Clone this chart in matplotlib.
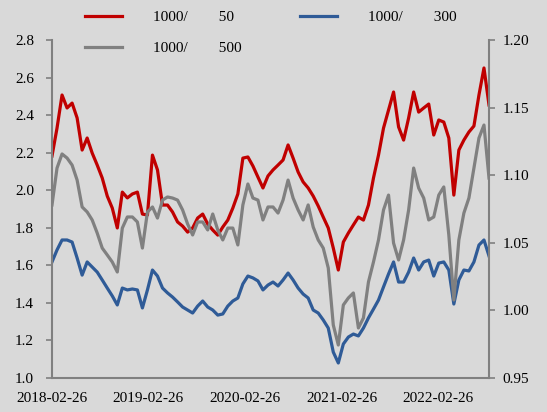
import pandas as pd
import matplotlib.dates as mdates
from matplotlib.backends.backend_agg import FigureCanvasAgg as FigureCanvas
from matplotlib.figure import Figure

# sample dates (evenly spaced)
dates = pd.date_range('2018-02-26', '2022-09-07', periods=88)

# left axis
ratio_50 = [2.182, 2.331, 2.507, 2.438, 2.464, 2.385, 2.214, 2.278, 2.198, 2.134,
            2.065, 1.969, 1.905, 1.799, 1.990, 1.959, 1.980, 1.990, 1.873, 1.868,
            2.187, 2.108, 1.921, 1.921, 1.884, 1.831, 1.809, 1.777, 1.799, 1.852,
            1.873, 1.820, 1.788, 1.761, 1.804, 1.841, 1.905, 1.980, 2.171, 2.177,
            2.129, 2.070, 2.012, 2.076, 2.108, 2.134, 2.161, 2.241, 2.171, 2.097,
            2.044, 2.012, 1.969, 1.916, 1.857, 1.799, 1.692, 1.575, 1.724, 1.772,
            1.815, 1.857, 1.841, 1.921, 2.065, 2.187, 2.331, 2.427, 2.523, 2.337,
            2.267, 2.385, 2.523, 2.416, 2.438, 2.459, 2.294, 2.374, 2.363, 2.278,
            1.974, 2.214, 2.267, 2.310, 2.342, 2.507, 2.651, 2.454]

ratio_300 = [1.618, 1.682, 1.735, 1.735, 1.724, 1.639, 1.548, 1.618, 1.591, 1.564,
             1.522, 1.479, 1.437, 1.389, 1.479, 1.469, 1.474, 1.469, 1.373, 1.469,
             1.575, 1.543, 1.479, 1.453, 1.431, 1.405, 1.378, 1.362, 1.346, 1.383,
             1.410, 1.378, 1.362, 1.335, 1.341, 1.383, 1.410, 1.426, 1.501, 1.543,
             1.533, 1.517, 1.469, 1.495, 1.511, 1.490, 1.522, 1.559, 1.522, 1.479,
             1.447, 1.426, 1.362, 1.346, 1.309, 1.266, 1.138, 1.080, 1.181, 1.218,
             1.234, 1.224, 1.266, 1.320, 1.367, 1.415, 1.485, 1.554, 1.618, 1.511,
             1.511, 1.564, 1.639, 1.575, 1.618, 1.628, 1.543, 1.612, 1.618, 1.575,
             1.394, 1.522, 1.575, 1.570, 1.618, 1.708, 1.735, 1.650]

# right axis
ratio_500 = [1.0780, 1.1053, 1.1157, 1.1127, 1.1075, 1.0964, 1.0765, 1.0728, 1.0669, 1.0572,
             1.0461, 1.0410, 1.0358, 1.0284, 1.0609, 1.0691, 1.0691, 1.0654, 1.0461, 1.0728,
             1.0765, 1.0683, 1.0816, 1.0839, 1.0831, 1.0816, 1.0743, 1.0639, 1.0558, 1.0654,
             1.0654, 1.0595, 1.0713, 1.0595, 1.0521, 1.0609, 1.0609, 1.0484, 1.0780, 1.0935,
             1.0831, 1.0816, 1.0669, 1.0765, 1.0765, 1.0720, 1.0816, 1.0964, 1.0831, 1.0743,
             1.0669, 1.0780, 1.0617, 1.0521, 1.0461, 1.0314, 0.9892, 0.9744, 1.0040, 1.0092,
             1.0129, 0.9870, 0.9944, 1.0210, 1.0358, 1.0521, 1.0743, 1.0853, 1.0498, 1.0373,
             1.0521, 1.0743, 1.1053, 1.0905, 1.0831, 1.0669, 1.0691, 1.0853, 1.0913, 1.0558,
             1.0077, 1.0521, 1.0720, 1.0831, 1.1053, 1.1275, 1.1371, 1.0979]

labels = ['1000/        50', '1000/        300', '1000/        500']
tick_dates = ['2018-02-26', '2019-02-26', '2020-02-26', '2021-02-26', '2022-02-26']

bg = '#d9d9d9'
spine_c = '#808080'
font = 'Liberation Serif'

fig = Figure(figsize=(5.47, 4.12), dpi=100, facecolor=bg)
FigureCanvas(fig)
ax = fig.add_axes([52 / 547, 1 - 378 / 412, 437 / 547, 338 / 412])
ax.set_facecolor(bg)
ax2 = ax.twinx()

l1, = ax.plot(dates, ratio_50, color='#c00000', lw=2.3)
l2, = ax.plot(dates, ratio_300, color='#2f5b97', lw=2.3)
l3, = ax2.plot(dates, ratio_500, color='#808080', lw=2.3)

ax.set_ylim(1.0, 2.8)
ax.set_yticks([1.0 + 0.2 * i for i in range(10)])
ax.yaxis.set_major_formatter('{x:.1f}')
ax2.set_ylim(0.95, 1.20)
ax2.set_yticks([0.95, 1.00, 1.05, 1.10, 1.15, 1.20])
ax2.yaxis.set_major_formatter('{x:.2f}')

ax.set_xlim(dates[0], dates[-1])
ax.set_xticks(pd.to_datetime(tick_dates))
ax.xaxis.set_major_formatter(mdates.DateFormatter('%Y-%m-%d'))

# axis lines and ticks
for a in (ax, ax2):
    a.spines['top'].set_visible(False)
    for s in ('left', 'right', 'bottom'):
        a.spines[s].set_color(spine_c)
        a.spines[s].set_linewidth(1.5)
ax.spines['right'].set_visible(False)
ax2.spines['left'].set_visible(False)
ax2.spines['bottom'].set_visible(False)
ax.tick_params(axis='y', length=4, width=1.2, color=spine_c, labelsize=11, pad=9)
ax2.tick_params(axis='y', length=4, width=1.2, color=spine_c, labelsize=11, pad=5.5)
ax.tick_params(axis='x', length=0, labelsize=11, pad=10)
for lab in ax.get_xticklabels() + ax.get_yticklabels() + ax2.get_yticklabels():
    lab.set_fontfamily(font)

fig.legend([l1, l3, l2], [labels[0], labels[2], labels[1]], ncol=2,
           loc='upper left', bbox_to_anchor=(85 / 547, 0.975), frameon=False,
           prop={'family': font, 'size': 11}, handlelength=2.45,
           handletextpad=2.0, columnspacing=3.8, labelspacing=1.15,
           borderpad=0, borderaxespad=0)

fig.savefig('out.png', dpi=100, facecolor=bg)
